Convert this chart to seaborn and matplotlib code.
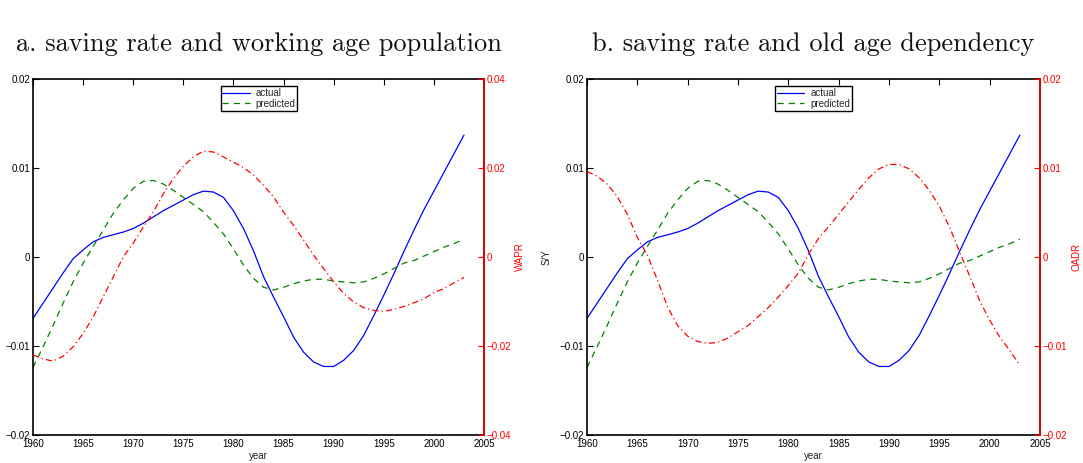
import numpy as np
import pandas as pd
import matplotlib
matplotlib.use("Agg")
import matplotlib.pyplot as plt
import seaborn as sns

years = list(range(1960, 2004))

actual = [-0.0069, -0.0052, -0.0035, -0.0018, -0.0002, 0.0008, 0.0017, 0.0022, 0.0025, 0.0028,
          0.0032, 0.0038, 0.0045, 0.0052, 0.0058, 0.0064, 0.0070, 0.0074, 0.0073, 0.0067,
          0.0052, 0.0032, 0.0007, -0.0022, -0.0045, -0.0067, -0.0090, -0.0107, -0.0118, -0.0123,
          -0.0123, -0.0116, -0.0105, -0.0088, -0.0066, -0.0043, -0.0019, 0.0006, 0.0030, 0.0053,
          0.0074, 0.0095, 0.0116, 0.0137]

predicted = [-0.0124, -0.0101, -0.0077, -0.0052, -0.0028, -0.0007, 0.0012, 0.0030, 0.0049, 0.0064,
             0.0077, 0.0085, 0.0086, 0.0082, 0.0075, 0.0067, 0.0059, 0.0051, 0.0039, 0.0026,
             0.0009, -0.0009, -0.0024, -0.0034, -0.0037, -0.0034, -0.0030, -0.0027, -0.0025, -0.0025,
             -0.0027, -0.0028, -0.0029, -0.0028, -0.0024, -0.0019, -0.0013, -0.0007, -0.0004, 0.0001,
             0.0006, 0.0011, 0.0015, 0.0020]

wapr = [-0.0220, -0.0229, -0.0234, -0.0223, -0.0202, -0.0172, -0.0135, -0.0090, -0.0045, 0.0000,
        0.0031, 0.0067, 0.0101, 0.0142, 0.0176, 0.0204, 0.0225, 0.0238, 0.0236, 0.0225,
        0.0213, 0.0201, 0.0184, 0.0161, 0.0135, 0.0101, 0.0071, 0.0038, 0.0004, -0.0026,
        -0.0056, -0.0082, -0.0101, -0.0114, -0.0120, -0.0122, -0.0118, -0.0111, -0.0103, -0.0094,
        -0.0080, -0.0071, -0.0058, -0.0046]

oadr = [0.0096, 0.0091, 0.0082, 0.0068, 0.0048, 0.0022, 0.0002, -0.0026, -0.0056, -0.0077,
        -0.0089, -0.0095, -0.0097, -0.0096, -0.0091, -0.0084, -0.0077, -0.0067, -0.0057, -0.0045,
        -0.0032, -0.0018, 0.0003, 0.0021, 0.0034, 0.0048, 0.0062, 0.0076, 0.0089, 0.0099,
        0.0104, 0.0104, 0.0099, 0.0089, 0.0075, 0.0057, 0.0034, 0.0006, -0.0021, -0.0049,
        -0.0071, -0.0090, -0.0105, -0.0122]

titles = ["a. saving rate and working age population", "b. saving rate and old age dependency"]
right_labels = ["WAPR", "OADR"]
left_ticks = [-0.02, -0.01, 0, 0.01, 0.02]
left_ticklabels = ["\u22120.02", "\u22120.01", "0", "0.01", "0.02"]
wapr_ticks = [-0.04, -0.02, 0, 0.02, 0.04]
wapr_ticklabels = ["\u22120.04", "\u22120.02", "0", "0.02", "0.04"]
oadr_ticks = [-0.02, -0.01, 0, 0.01, 0.02]
oadr_ticklabels = ["\u22120.02", "\u22120.01", "0", "0.01", "0.02"]
xticks = list(range(1960, 2006, 5))

sns.set_theme(style="white")
plt.rcParams['font.family'] = ['Liberation Sans', 'DejaVu Sans']

W, H = 1083, 463
fig = plt.figure(figsize=(W / 100, H / 100), dpi=100)

df = pd.DataFrame({"year": years, "actual": actual, "predicted": predicted, "wapr": wapr, "oadr": oadr})

panels = [
    dict(x0=33, x1=484, right="wapr", rticks=wapr_ticks, rlabels=wapr_ticklabels, rlim=(-0.04, 0.04), ylabel=None),
    dict(x0=587, x1=1040, right="oadr", rticks=oadr_ticks, rlabels=oadr_ticklabels, rlim=(-0.02, 0.02), ylabel="S/Y"),
]
ytop, ybot = 79, 435
red = "#ff0000"
for i, p in enumerate(panels):
    ax = fig.add_axes([p["x0"] / W, 1 - ybot / H, (p["x1"] - p["x0"]) / W, (ybot - ytop) / H])
    sns.lineplot(data=df, x="year", y="actual", ax=ax, color="#0000ff", lw=0.9, label="actual")
    sns.lineplot(data=df, x="year", y="predicted", ax=ax, color="#008000", lw=0.9, label="predicted",
                 linestyle=(0, (5, 4)))
    ax.set_xlim(1960, 2005)
    ax.set_ylim(-0.02, 0.02)
    ax.set_xticks(xticks)
    ax.set_xticklabels([str(x) for x in xticks])
    ax.set_yticks(left_ticks)
    ax.set_yticklabels(left_ticklabels)
    ax.tick_params(axis="both", direction="in", length=4, width=0.8, labelsize=7, colors="black", pad=2)
    ax.tick_params(axis="x", top=True, labeltop=False, pad=3)
    ax.set_xlabel("year", fontsize=7, labelpad=1, color="#222222")
    if p["ylabel"]:
        ax.set_ylabel(p["ylabel"], fontsize=7, labelpad=6, color="#222222")
    else:
        ax.set_ylabel("")
    for s in ax.spines.values():
        s.set_linewidth(1.2)
        s.set_color("black")
    leg = ax.legend(loc="upper left", bbox_to_anchor=(0.405, 0.993), fontsize=7, frameon=True,
                    fancybox=False, edgecolor="black", framealpha=1, borderpad=0.2,
                    handlelength=2.8, handletextpad=0.6, labelspacing=0.05)
    leg.get_frame().set_linewidth(1.0)
    ax.set_title(titles[i], family="cmr10", fontsize=19, pad=20, color="#111111")

    ax2 = ax.twinx()
    sns.lineplot(data=df, x="year", y=p["right"], ax=ax2, color=red, lw=0.9,
                 linestyle=(0, (5, 2.5, 1, 2.5)), legend=False)
    ax2.set_ylim(*p["rlim"])
    ax2.set_yticks(p["rticks"])
    ax2.set_yticklabels(p["rlabels"])
    ax2.tick_params(axis="y", direction="in", length=4, width=0.8, labelsize=7, colors=red, pad=2)
    ax2.set_ylabel(right_labels[i], fontsize=7, color=red, labelpad=3)
    ax2.spines["right"].set_color(red)
    ax2.spines["right"].set_linewidth(1.2)
    for k in ["left", "top", "bottom"]:
        ax2.spines[k].set_visible(False)
    ax2.set_xlim(1960, 2005)

fig.savefig("out.png", dpi=100)
